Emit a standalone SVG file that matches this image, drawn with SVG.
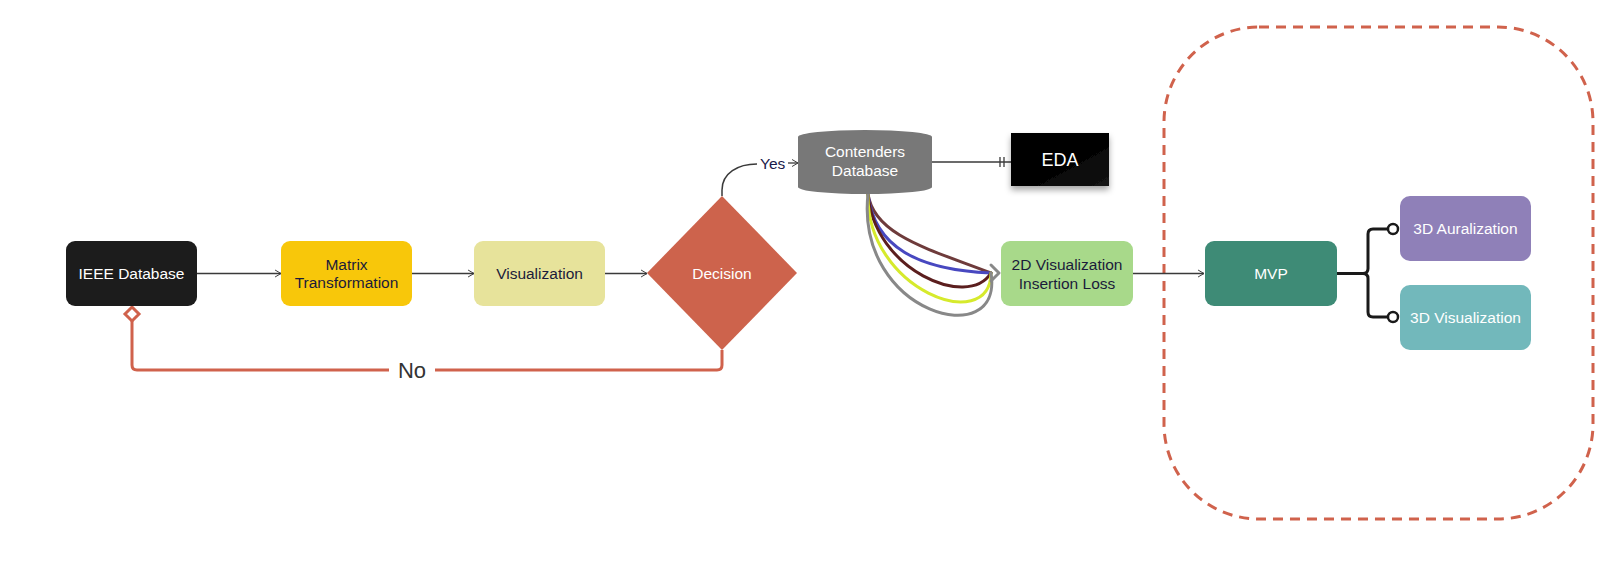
<svg xmlns="http://www.w3.org/2000/svg" width="1603" height="584" viewBox="0 0 1603 584">
<style>
.lbl{font-family:"Liberation Sans",Arial,sans-serif;font-size:15.5px;text-anchor:middle}
.w{fill:#ffffff}
.d{fill:#1b1b3a}
.thin{fill:none;stroke:#3a3a3a;stroke-width:1.3}
.curve{fill:none;stroke-width:3;stroke-linecap:round}
</style>
<defs>
<marker id="arr" viewBox="0 0 10 12" refX="9.5" refY="6" markerWidth="7" markerHeight="10" markerUnits="userSpaceOnUse" orient="auto">
<path d="M1,1 L9.5,6 L1,11" fill="none" stroke="#3a3a3a" stroke-width="1.4"/>
</marker>
<filter id="sh" x="-10%" y="-10%" width="120%" height="140%">
<feDropShadow dx="0" dy="4" stdDeviation="3" flood-color="#000" flood-opacity="0.35"/>
</filter>
<linearGradient id="edag" x1="0" y1="0" x2="1" y2="1">
<stop offset="0" stop-color="#000"/>
<stop offset="0.6" stop-color="#050505"/>
<stop offset="1" stop-color="#151515"/>
</linearGradient>
</defs>

<rect id="group-boundary" x="1164" y="27" width="429" height="492" rx="95" fill="none" stroke="#d0624c" stroke-width="3" stroke-dasharray="10 7"/>

<g id="connectors">
<line class="thin" x1="197" y1="273.5" x2="281" y2="273.5" marker-end="url(#arr)"/>
<line class="thin" x1="412" y1="273.5" x2="474" y2="273.5" marker-end="url(#arr)"/>
<line class="thin" x1="605" y1="273.5" x2="647" y2="273.5" marker-end="url(#arr)"/>
<line class="thin" x1="1133" y1="273.5" x2="1204" y2="273.5" marker-end="url(#arr)"/>
<path d="M722,350 V365 Q722,370 717,370 H137 Q132,370 132,365 V321" fill="none" stroke="#d0624c" stroke-width="3"/>
<polygon points="132,307 139,314 132,321 125,314" fill="#ffffff" stroke="#d0624c" stroke-width="3"/>
<rect x="389" y="358" width="46" height="24" fill="#ffffff"/>
<text x="412" y="378" font-family="Liberation Sans,Arial,sans-serif" font-size="22" fill="#333333" text-anchor="middle">No</text>
<path d="M722,196 V190 C722,173 738,164 757,164" fill="none" stroke="#3a3a3a" stroke-width="1.5"/>
<text x="760" y="169" font-family="Liberation Sans,Arial,sans-serif" font-size="15.5" fill="#1a1a4a">Yes</text>
<line class="thin" x1="788" y1="163" x2="798" y2="163" marker-end="url(#arr)"/>
<line x1="932" y1="162" x2="1011" y2="162" stroke="#3a3a3a" stroke-width="1.3"/>
<line x1="1000" y1="157" x2="1000" y2="167" stroke="#3a3a3a" stroke-width="1.3"/>
<line x1="1004" y1="157" x2="1004" y2="167" stroke="#3a3a3a" stroke-width="1.3"/>
<path class="curve" stroke="#6e3b3b" d="M868,194 C874,236 932,250 991,273"/>
<path class="curve" stroke="#4848c0" d="M868,194 C874,247 918,270 991,273"/>
<path class="curve" stroke="#5b1e1e" d="M868,194 C874,270 968,310 991,273"/>
<path class="curve" stroke="#d6ea2c" d="M868,194 C866,290 990,336 991,273"/>
<path class="curve" stroke="#888888" d="M868,194 C855,314 1004,354 991,273"/>
<polyline points="991,265 999,273 991,281" fill="none" stroke="#888888" stroke-width="3" stroke-linecap="round" stroke-linejoin="round"/>
<path d="M1337,273.5 H1363 Q1368,273.5 1368,268.5 V234 Q1368,229 1373,229 H1388 M1363,273.5 Q1368,273.5 1368,278.5 V312 Q1368,317 1373,317 H1388" fill="none" stroke="#1a1a1a" stroke-width="3"/>
<circle cx="1393" cy="229" r="5" fill="#ffffff" stroke="#1a1a1a" stroke-width="2.5"/>
<circle cx="1393" cy="317" r="5" fill="#ffffff" stroke="#1a1a1a" stroke-width="2.5"/>
</g>

<g id="ieee">
<rect x="66" y="241" width="131" height="65" rx="9" fill="#1c1c1c"/>
<text class="lbl w" x="131.5" y="279">IEEE Database</text>
</g>
<g id="matrix">
<rect x="281" y="241" width="131" height="65" rx="9" fill="#f8c70a"/>
<text class="lbl d" x="346.5" y="269.5">Matrix</text>
<text class="lbl d" x="346.5" y="288">Transformation</text>
</g>
<g id="visualization">
<rect x="474" y="241" width="131" height="65" rx="9" fill="#e7e39b"/>
<text class="lbl d" x="539.5" y="279">Visualization</text>
</g>
<g id="decision">
<polygon points="722,196 797,273 722,350 647,273" fill="#cd634c"/>
<text class="lbl w" x="722" y="279">Decision</text>
</g>
<g id="contenders">
<path d="M798,137 A67,7 0 0 1 932,137 V187 A67,7 0 0 1 798,187 Z" fill="#787878"/>
<text class="lbl w" x="865" y="157">Contenders</text>
<text class="lbl w" x="865" y="176">Database</text>
</g>
<g id="eda">
<rect x="1011" y="133" width="98" height="53" fill="url(#edag)" filter="url(#sh)"/>
<text x="1060" y="166" font-family="Liberation Sans,Arial,sans-serif" font-size="18" fill="#ffffff" text-anchor="middle">EDA</text>
</g>
<g id="vis2d">
<rect x="1001" y="241" width="132" height="65" rx="9" fill="#a8d98a"/>
<text class="lbl d" x="1067" y="270">2D Visualization</text>
<text class="lbl d" x="1067" y="288.5">Insertion Loss</text>
</g>
<g id="mvp">
<rect x="1205" y="241" width="132" height="65" rx="9" fill="#3e8b76"/>
<text class="lbl w" x="1271" y="279">MVP</text>
</g>
<g id="auralization">
<rect x="1400" y="196" width="131" height="65" rx="10" fill="#8f80b8"/>
<text class="lbl w" x="1465.5" y="234">3D Auralization</text>
</g>
<g id="vis3d">
<rect x="1400" y="285" width="131" height="65" rx="10" fill="#72b8bb"/>
<text class="lbl w" x="1465.5" y="323">3D Visualization</text>
</g>
</svg>
